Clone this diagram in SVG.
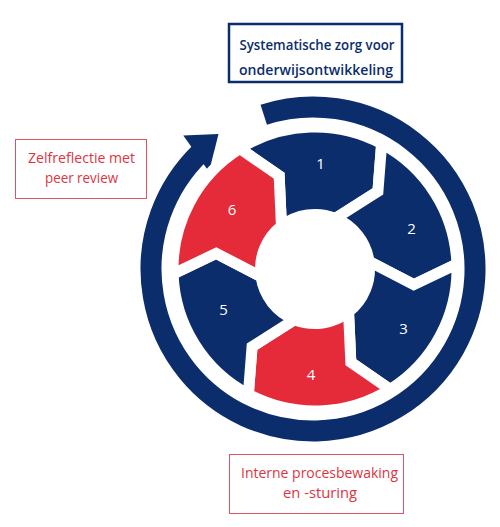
<svg xmlns="http://www.w3.org/2000/svg" width="500" height="527" viewBox="0 0 500 527">
<style>
.navy{fill:#0b2d6b}
.red{fill:#e52a3a}
.seg{stroke:#fff;stroke-width:11;stroke-linejoin:miter}
.num{fill:#fff;font-family:"Open Sans","Noto Sans",sans-serif;font-size:15px;text-anchor:middle}
.lbl{font-family:"Open Sans","Noto Sans",sans-serif;font-size:15px;text-anchor:middle}
.redtxt{fill:#e0333f}
.navytxt{fill:#0b2d6b;font-weight:600}
</style>
<rect width="500" height="527" fill="#fff"/>
<g id="connectors">
<path d="M263.75 114.66 A162 162 0 1 1 200.47 152.47" fill="none" stroke="#0b2d6b" stroke-width="21"/>
<polygon points="183.3,135.5 218.5,134 209,171.7" class="navy"/>
</g>
<g id="seg1"><path class="navy seg" d="M239.75 148.58 A142 142 0 0 1 381.66 143.62 L377.93 191.28 L335.42 218.47 A54.5 54.5 0 0 0 281.45 226.05 L279.16 175.64 Z"/><text class="num" x="320.5" y="168.5">1</text></g>
<g id="seg2"><path class="navy seg" d="M381.66 143.62 A142 142 0 0 1 456.91 264.04 L413.77 284.64 L368.97 261.42 A54.5 54.5 0 0 0 335.42 218.47 L377.93 191.28 Z"/><text class="num" x="411.5" y="234">2</text></g>
<g id="seg3"><path class="navy seg" d="M456.91 264.04 A142 142 0 0 1 390.25 389.42 L350.84 362.36 L348.55 311.95 A54.5 54.5 0 0 0 368.97 261.42 L413.77 284.64 Z"/><text class="num" x="403.5" y="333.5">3</text></g>
<g id="seg4"><path class="red seg" d="M390.25 389.42 A142 142 0 0 1 248.34 394.38 L252.07 346.72 L294.58 319.53 A54.5 54.5 0 0 0 348.55 311.95 L350.84 362.36 Z"/><text class="num" x="311" y="379.5">4</text></g>
<g id="seg5"><path class="navy seg" d="M248.34 394.38 A142 142 0 0 1 173.09 273.96 L216.23 253.36 L261.03 276.58 A54.5 54.5 0 0 0 294.58 319.53 L252.07 346.72 Z"/><text class="num" x="223.5" y="314.5">5</text></g>
<g id="seg6"><path class="red seg" d="M173.09 273.96 A142 142 0 0 1 239.75 148.58 L279.16 175.64 L281.45 226.05 A54.5 54.5 0 0 0 261.03 276.58 L216.23 253.36 Z"/><text class="num" x="232" y="214.5">6</text></g>
<g id="box-top">
<rect x="229" y="24" width="173" height="58" fill="#fff" stroke="#0b2d6b" stroke-width="2.5"/>
<text class="lbl navytxt" x="317" y="50" textLength="155" lengthAdjust="spacingAndGlyphs">Systematische zorg voor</text>
<text class="lbl navytxt" x="316" y="75" textLength="154" lengthAdjust="spacingAndGlyphs">onderwijsontwikkeling</text>
</g>
<g id="box-left">
<rect x="15.5" y="139.5" width="131" height="59" fill="#fff" stroke="#e0525e" stroke-width="1"/>
<text class="lbl redtxt" x="81.5" y="163" textLength="107" lengthAdjust="spacingAndGlyphs">Zelfreflectie met</text>
<text class="lbl redtxt" x="81.5" y="183" textLength="73" lengthAdjust="spacingAndGlyphs">peer review</text>
</g>
<g id="box-bottom">
<rect x="229.5" y="454.5" width="174" height="59" fill="#fff" stroke="#e0525e" stroke-width="1"/>
<text class="lbl redtxt" x="319.5" y="478" textLength="157" lengthAdjust="spacingAndGlyphs">Interne procesbewaking</text>
<text class="lbl redtxt" x="320" y="498" textLength="74" lengthAdjust="spacingAndGlyphs">en -sturing</text>
</g>
</svg>
